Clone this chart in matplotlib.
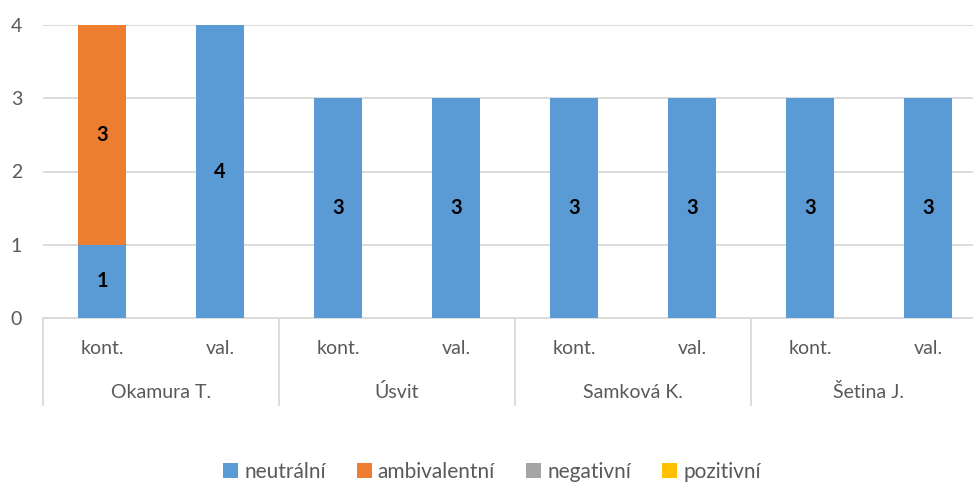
import numpy as np
import matplotlib.pyplot as plt
from matplotlib.transforms import blended_transform_factory

plt.rcParams['font.family'] = ['Lato', 'DejaVu Sans']

# data
osoby = ["Okamura T.", "Úsvit", "Samková K.", "Šetina J."]
typy = ["kont.", "val."]
neutralni = [1, 4, 3, 3, 3, 3, 3, 3]
ambivalentni = [3, 0, 0, 0, 0, 0, 0, 0]
negativni = [0, 0, 0, 0, 0, 0, 0, 0]
pozitivni = [0, 0, 0, 0, 0, 0, 0, 0]

serie = [("neutrální", neutralni, "#5B9BD5"),
         ("ambivalentní", ambivalentni, "#ED7D31"),
         ("negativní", negativni, "#A5A5A5"),
         ("pozitivní", pozitivni, "#FFC000")]

fig = plt.figure(figsize=(9.73, 4.82), dpi=100)
# plot area runs past the right edge of the picture, like in the original
ax = fig.add_axes([43/973, 164/482, 944/973, 293/482])

x = np.arange(len(neutralni))
spodek = np.zeros(len(x))
for nazev, hodnoty, barva in serie:
    h = np.array(hodnoty, dtype=float)
    ax.bar(x, h, 0.4, bottom=spodek, color=barva, label=nazev, zorder=3)
    for xi, b, v in zip(x, spodek, h):
        if v > 0:
            ax.text(xi, b + v / 2, f"{int(v)}", ha="center", va="center",
                    fontsize=14.5, fontweight="bold", color="black", zorder=4)
    spodek += h

ax.set_xlim(-0.5, len(x) - 0.5)
ax.set_ylim(0, 4)
ax.set_yticks([0, 1, 2, 3, 4])
ax.yaxis.grid(True, color="#D9D9D9", linewidth=1.3, zorder=0)
for s in ["top", "right", "left"]:
    ax.spines[s].set_visible(False)
ax.spines["bottom"].set_color("#D9D9D9")
ax.spines["bottom"].set_linewidth(1.3)
ax.tick_params(axis="y", length=0, labelsize=14, labelcolor="#595959", pad=15)
ax.set_xticks([])

tr = blended_transform_factory(ax.transData, ax.transAxes)
for i, xi in enumerate(x):
    ax.text(xi, -31/293, typy[i % 2], transform=tr, ha="center", va="center",
            fontsize=14, color="#595959")
for g, nazev in enumerate(osoby):
    ax.text(2 * g + 0.5, -74/293, nazev, transform=tr, ha="center", va="center",
            fontsize=14, color="#595959")
for xs in [-0.5, 1.5, 3.5, 5.5, 7.5]:
    ax.plot([xs, xs], [0, -87/293], transform=tr, color="#D9D9D9",
            linewidth=1.3, clip_on=False)

ax.legend(loc="center", bbox_to_anchor=(492/973, 10/482),
          bbox_transform=fig.transFigure, ncol=4, frameon=False,
          fontsize=15, handlelength=0.7, handleheight=0.7, handletextpad=0.3,
          columnspacing=1.5, labelcolor="#595959")

fig.savefig("out.png", dpi=100)
